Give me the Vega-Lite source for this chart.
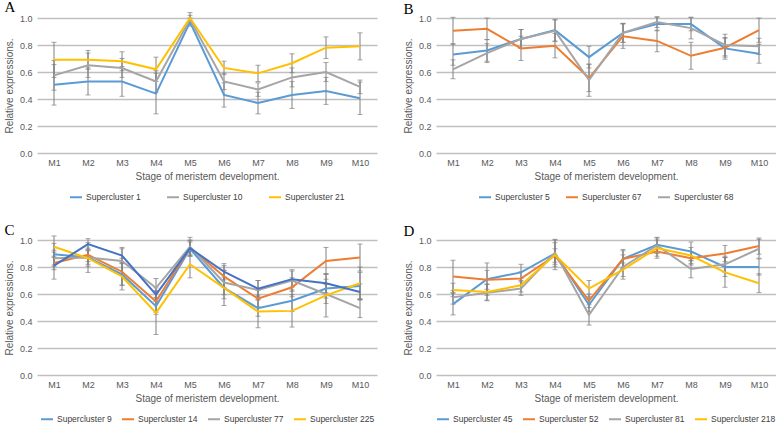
{
"$schema": "https://vega.github.io/schema/vega-lite/v6.json",
"padding": {"left": 4, "top": 0, "right": 0, "bottom": 0},
"background": "white",
"config": {
  "view": {"stroke": null},
  "font": "Liberation Sans",
  "axis": {"labelColor": "#595959", "titleColor": "#595959", "labelFontSize": 9, "titleFontSize": 10, "titleFontWeight": "normal", "ticks": false, "domain": false, "gridColor": "#c0c0c0", "gridWidth": 1.4},
  "axisX": {"grid": false, "labelAngle": 0, "labelPadding": 5, "titlePadding": 4},
  "axisY": {"labelPadding": 5, "titlePadding": 5},
  "legend": {"orient": "bottom", "direction": "horizontal", "symbolType": "stroke", "symbolStrokeWidth": 2, "labelFontSize": 8.5, "labelColor": "#404040", "columnPadding": 6, "labelOffset": 3, "symbolSize": 144, "offset": 9, "layout": {"bottom": {"anchor": "middle"}}},
  "title": {"font": "Liberation Serif", "fontSize": 15, "fontWeight": "normal", "color": "#000000", "anchor": "start", "frame": "bounds", "offset": -3}
},
"datasets": {
  "A": [
    {"series": "Supercluster 1", "stage": "M1", "value": 0.505, "err": 0.15},
    {"series": "Supercluster 1", "stage": "M2", "value": 0.53, "err": 0.10},
    {"series": "Supercluster 1", "stage": "M3", "value": 0.53, "err": 0.11},
    {"series": "Supercluster 1", "stage": "M4", "value": 0.44, "err": 0.15},
    {"series": "Supercluster 1", "stage": "M5", "value": 0.97, "err": 0.03},
    {"series": "Supercluster 1", "stage": "M6", "value": 0.43, "err": 0.09},
    {"series": "Supercluster 1", "stage": "M7", "value": 0.37, "err": 0.08},
    {"series": "Supercluster 1", "stage": "M8", "value": 0.43, "err": 0.10},
    {"series": "Supercluster 1", "stage": "M9", "value": 0.46, "err": 0.10},
    {"series": "Supercluster 1", "stage": "M10", "value": 0.405, "err": 0.12},
    {"series": "Supercluster 10", "stage": "M1", "value": 0.575, "err": 0.11},
    {"series": "Supercluster 10", "stage": "M2", "value": 0.65, "err": 0.09},
    {"series": "Supercluster 10", "stage": "M3", "value": 0.63, "err": 0.07},
    {"series": "Supercluster 10", "stage": "M4", "value": 0.53, "err": 0.08},
    {"series": "Supercluster 10", "stage": "M5", "value": 0.99, "err": 0.03},
    {"series": "Supercluster 10", "stage": "M6", "value": 0.53, "err": 0.06},
    {"series": "Supercluster 10", "stage": "M7", "value": 0.47, "err": 0.05},
    {"series": "Supercluster 10", "stage": "M8", "value": 0.56, "err": 0.07},
    {"series": "Supercluster 10", "stage": "M9", "value": 0.60, "err": 0.07},
    {"series": "Supercluster 10", "stage": "M10", "value": 0.49, "err": 0.05},
    {"series": "Supercluster 21", "stage": "M1", "value": 0.69, "err": 0.13},
    {"series": "Supercluster 21", "stage": "M2", "value": 0.69, "err": 0.07},
    {"series": "Supercluster 21", "stage": "M3", "value": 0.68, "err": 0.07},
    {"series": "Supercluster 21", "stage": "M4", "value": 0.62, "err": 0.09},
    {"series": "Supercluster 21", "stage": "M5", "value": 1.0, "err": 0.04},
    {"series": "Supercluster 21", "stage": "M6", "value": 0.63, "err": 0.05},
    {"series": "Supercluster 21", "stage": "M7", "value": 0.59, "err": 0.06},
    {"series": "Supercluster 21", "stage": "M8", "value": 0.665, "err": 0.07},
    {"series": "Supercluster 21", "stage": "M9", "value": 0.78, "err": 0.08},
    {"series": "Supercluster 21", "stage": "M10", "value": 0.79, "err": 0.10}
  ],
  "B": [
    {"series": "Supercluster 5", "stage": "M1", "value": 0.73, "err": 0.08},
    {"series": "Supercluster 5", "stage": "M2", "value": 0.76, "err": 0.08},
    {"series": "Supercluster 5", "stage": "M3", "value": 0.845, "err": 0.07},
    {"series": "Supercluster 5", "stage": "M4", "value": 0.91, "err": 0.08},
    {"series": "Supercluster 5", "stage": "M5", "value": 0.71, "err": 0.08},
    {"series": "Supercluster 5", "stage": "M6", "value": 0.89, "err": 0.07},
    {"series": "Supercluster 5", "stage": "M7", "value": 0.955, "err": 0.05},
    {"series": "Supercluster 5", "stage": "M8", "value": 0.955, "err": 0.05},
    {"series": "Supercluster 5", "stage": "M9", "value": 0.775, "err": 0.08},
    {"series": "Supercluster 5", "stage": "M10", "value": 0.735, "err": 0.07},
    {"series": "Supercluster 67", "stage": "M1", "value": 0.905, "err": 0.10},
    {"series": "Supercluster 67", "stage": "M2", "value": 0.92, "err": 0.08},
    {"series": "Supercluster 67", "stage": "M3", "value": 0.775, "err": 0.09},
    {"series": "Supercluster 67", "stage": "M4", "value": 0.795, "err": 0.09},
    {"series": "Supercluster 67", "stage": "M5", "value": 0.555, "err": 0.10},
    {"series": "Supercluster 67", "stage": "M6", "value": 0.865, "err": 0.09},
    {"series": "Supercluster 67", "stage": "M7", "value": 0.83, "err": 0.08},
    {"series": "Supercluster 67", "stage": "M8", "value": 0.72, "err": 0.10},
    {"series": "Supercluster 67", "stage": "M9", "value": 0.78, "err": 0.07},
    {"series": "Supercluster 67", "stage": "M10", "value": 0.91, "err": 0.09},
    {"series": "Supercluster 68", "stage": "M1", "value": 0.62, "err": 0.07},
    {"series": "Supercluster 68", "stage": "M2", "value": 0.74, "err": 0.07},
    {"series": "Supercluster 68", "stage": "M3", "value": 0.845, "err": 0.07},
    {"series": "Supercluster 68", "stage": "M4", "value": 0.905, "err": 0.08},
    {"series": "Supercluster 68", "stage": "M5", "value": 0.54, "err": 0.12},
    {"series": "Supercluster 68", "stage": "M6", "value": 0.89, "err": 0.07},
    {"series": "Supercluster 68", "stage": "M7", "value": 0.97, "err": 0.04},
    {"series": "Supercluster 68", "stage": "M8", "value": 0.925, "err": 0.08},
    {"series": "Supercluster 68", "stage": "M9", "value": 0.80, "err": 0.08},
    {"series": "Supercluster 68", "stage": "M10", "value": 0.79, "err": 0.06}
  ],
  "C": [
    {"series": "Supercluster 9", "stage": "M1", "value": 0.895, "err": 0.08},
    {"series": "Supercluster 9", "stage": "M2", "value": 0.87, "err": 0.05},
    {"series": "Supercluster 9", "stage": "M3", "value": 0.745, "err": 0.08},
    {"series": "Supercluster 9", "stage": "M4", "value": 0.51, "err": 0.06},
    {"series": "Supercluster 9", "stage": "M5", "value": 0.935, "err": 0.05},
    {"series": "Supercluster 9", "stage": "M6", "value": 0.645, "err": 0.08},
    {"series": "Supercluster 9", "stage": "M7", "value": 0.495, "err": 0.06},
    {"series": "Supercluster 9", "stage": "M8", "value": 0.55, "err": 0.08},
    {"series": "Supercluster 9", "stage": "M9", "value": 0.64, "err": 0.07},
    {"series": "Supercluster 9", "stage": "M10", "value": 0.66, "err": 0.10},
    {"series": "Supercluster 14", "stage": "M1", "value": 0.83, "err": 0.05},
    {"series": "Supercluster 14", "stage": "M2", "value": 0.89, "err": 0.05},
    {"series": "Supercluster 14", "stage": "M3", "value": 0.765, "err": 0.10},
    {"series": "Supercluster 14", "stage": "M4", "value": 0.545, "err": 0.08},
    {"series": "Supercluster 14", "stage": "M5", "value": 0.945, "err": 0.05},
    {"series": "Supercluster 14", "stage": "M6", "value": 0.73, "err": 0.08},
    {"series": "Supercluster 14", "stage": "M7", "value": 0.565, "err": 0.06},
    {"series": "Supercluster 14", "stage": "M8", "value": 0.65, "err": 0.07},
    {"series": "Supercluster 14", "stage": "M9", "value": 0.845, "err": 0.10},
    {"series": "Supercluster 14", "stage": "M10", "value": 0.87, "err": 0.10},
    {"series": "Supercluster 77", "stage": "M1", "value": 0.865, "err": 0.06},
    {"series": "Supercluster 77", "stage": "M2", "value": 0.87, "err": 0.11},
    {"series": "Supercluster 77", "stage": "M3", "value": 0.845, "err": 0.10},
    {"series": "Supercluster 77", "stage": "M4", "value": 0.645, "err": 0.07},
    {"series": "Supercluster 77", "stage": "M5", "value": 0.95, "err": 0.07},
    {"series": "Supercluster 77", "stage": "M6", "value": 0.685, "err": 0.09},
    {"series": "Supercluster 77", "stage": "M7", "value": 0.63, "err": 0.07},
    {"series": "Supercluster 77", "stage": "M8", "value": 0.70, "err": 0.08},
    {"series": "Supercluster 77", "stage": "M9", "value": 0.60, "err": 0.07},
    {"series": "Supercluster 77", "stage": "M10", "value": 0.495, "err": 0.07},
    {"series": "Supercluster 225", "stage": "M1", "value": 0.95, "err": 0.08},
    {"series": "Supercluster 225", "stage": "M2", "value": 0.865, "err": 0.06},
    {"series": "Supercluster 225", "stage": "M3", "value": 0.73, "err": 0.10},
    {"series": "Supercluster 225", "stage": "M4", "value": 0.46, "err": 0.16},
    {"series": "Supercluster 225", "stage": "M5", "value": 0.82, "err": 0.10},
    {"series": "Supercluster 225", "stage": "M6", "value": 0.645, "err": 0.13},
    {"series": "Supercluster 225", "stage": "M7", "value": 0.47, "err": 0.12},
    {"series": "Supercluster 225", "stage": "M8", "value": 0.475, "err": 0.12},
    {"series": "Supercluster 225", "stage": "M9", "value": 0.59, "err": 0.16},
    {"series": "Supercluster 225", "stage": "M10", "value": 0.68, "err": 0.12},
    {"series": "Unlabelled series", "stage": "M1", "value": 0.81, "err": 0.10},
    {"series": "Unlabelled series", "stage": "M2", "value": 0.97, "err": 0.04},
    {"series": "Unlabelled series", "stage": "M3", "value": 0.885, "err": 0.05},
    {"series": "Unlabelled series", "stage": "M4", "value": 0.595, "err": 0.05},
    {"series": "Unlabelled series", "stage": "M5", "value": 0.94, "err": 0.06},
    {"series": "Unlabelled series", "stage": "M6", "value": 0.765, "err": 0.06},
    {"series": "Unlabelled series", "stage": "M7", "value": 0.64, "err": 0.06},
    {"series": "Unlabelled series", "stage": "M8", "value": 0.71, "err": 0.06},
    {"series": "Unlabelled series", "stage": "M9", "value": 0.68, "err": 0.07},
    {"series": "Unlabelled series", "stage": "M10", "value": 0.615, "err": 0.06}
  ],
  "D": [
    {"series": "Supercluster 45", "stage": "M1", "value": 0.525, "err": 0.08},
    {"series": "Supercluster 45", "stage": "M2", "value": 0.71, "err": 0.12},
    {"series": "Supercluster 45", "stage": "M3", "value": 0.76, "err": 0.06},
    {"series": "Supercluster 45", "stage": "M4", "value": 0.90, "err": 0.08},
    {"series": "Supercluster 45", "stage": "M5", "value": 0.52, "err": 0.05},
    {"series": "Supercluster 45", "stage": "M6", "value": 0.86, "err": 0.07},
    {"series": "Supercluster 45", "stage": "M7", "value": 0.965, "err": 0.05},
    {"series": "Supercluster 45", "stage": "M8", "value": 0.915, "err": 0.07},
    {"series": "Supercluster 45", "stage": "M9", "value": 0.80, "err": 0.07},
    {"series": "Supercluster 45", "stage": "M10", "value": 0.80, "err": 0.06},
    {"series": "Supercluster 52", "stage": "M1", "value": 0.73, "err": 0.12},
    {"series": "Supercluster 52", "stage": "M2", "value": 0.705, "err": 0.07},
    {"series": "Supercluster 52", "stage": "M3", "value": 0.715, "err": 0.05},
    {"series": "Supercluster 52", "stage": "M4", "value": 0.885, "err": 0.05},
    {"series": "Supercluster 52", "stage": "M5", "value": 0.55, "err": 0.05},
    {"series": "Supercluster 52", "stage": "M6", "value": 0.86, "err": 0.06},
    {"series": "Supercluster 52", "stage": "M7", "value": 0.915, "err": 0.05},
    {"series": "Supercluster 52", "stage": "M8", "value": 0.865, "err": 0.05},
    {"series": "Supercluster 52", "stage": "M9", "value": 0.90, "err": 0.06},
    {"series": "Supercluster 52", "stage": "M10", "value": 0.955, "err": 0.06},
    {"series": "Supercluster 81", "stage": "M1", "value": 0.575, "err": 0.05},
    {"series": "Supercluster 81", "stage": "M2", "value": 0.61, "err": 0.06},
    {"series": "Supercluster 81", "stage": "M3", "value": 0.64, "err": 0.05},
    {"series": "Supercluster 81", "stage": "M4", "value": 0.905, "err": 0.10},
    {"series": "Supercluster 81", "stage": "M5", "value": 0.445, "err": 0.075},
    {"series": "Supercluster 81", "stage": "M6", "value": 0.80, "err": 0.09},
    {"series": "Supercluster 81", "stage": "M7", "value": 0.96, "err": 0.06},
    {"series": "Supercluster 81", "stage": "M8", "value": 0.785, "err": 0.065},
    {"series": "Supercluster 81", "stage": "M9", "value": 0.82, "err": 0.06},
    {"series": "Supercluster 81", "stage": "M10", "value": 0.935, "err": 0.07},
    {"series": "Supercluster 218", "stage": "M1", "value": 0.63, "err": 0.05},
    {"series": "Supercluster 218", "stage": "M2", "value": 0.615, "err": 0.06},
    {"series": "Supercluster 218", "stage": "M3", "value": 0.665, "err": 0.05},
    {"series": "Supercluster 218", "stage": "M4", "value": 0.89, "err": 0.11},
    {"series": "Supercluster 218", "stage": "M5", "value": 0.64, "err": 0.06},
    {"series": "Supercluster 218", "stage": "M6", "value": 0.78, "err": 0.05},
    {"series": "Supercluster 218", "stage": "M7", "value": 0.94, "err": 0.06},
    {"series": "Supercluster 218", "stage": "M8", "value": 0.885, "err": 0.06},
    {"series": "Supercluster 218", "stage": "M9", "value": 0.76, "err": 0.11},
    {"series": "Supercluster 218", "stage": "M10", "value": 0.68, "err": 0.07}
  ]
},
"columns": 2,
"bounds": "flush",
"spacing": {"row": 87, "column": 59},
"resolve": {"scale": {"color": "independent", "x": "independent", "y": "independent"}, "legend": {"color": "independent"}},
"concat": [
  {
    "title": {"text": "A"},
    "width": 340, "height": 135,
    "data": {"name": "A"},
    "layer": [
      {"mark": {"type": "errorbar", "ticks": {"size": 5}, "color": "#808080", "thickness": 1},
       "encoding": {
         "x": {"field": "stage", "type": "ordinal", "sort": ["M1","M2","M3","M4","M5","M6","M7","M8","M9","M10"], "scale": {"type": "point", "padding": 0.5}, "axis": {"title": "Stage of meristem development."}},
         "y": {"field": "value", "type": "quantitative", "scale": {"domain": [0, 1], "nice": false}, "axis": {"title": "Relative expressions.", "values": [0, 0.2, 0.4, 0.6, 0.8, 1.0], "format": ".1f"}},
         "yError": {"field": "err"},
         "detail": {"field": "series"}}},
      {"mark": {"type": "line", "strokeWidth": 2},
       "encoding": {
         "x": {"field": "stage", "type": "ordinal", "sort": ["M1","M2","M3","M4","M5","M6","M7","M8","M9","M10"], "scale": {"type": "point", "padding": 0.5}, "axis": {"title": "Stage of meristem development."}},
         "y": {"field": "value", "type": "quantitative", "scale": {"domain": [0, 1], "nice": false}, "axis": {"title": "Relative expressions.", "values": [0, 0.2, 0.4, 0.6, 0.8, 1.0], "format": ".1f"}},
         "color": {"field": "series", "type": "nominal", "scale": {"domain": ["Supercluster 1", "Supercluster 10", "Supercluster 21"], "range": ["#5B9BD5", "#A5A5A5", "#FFC000"]}, "legend": {"title": null, "columnPadding": 22}}}}
    ]
  },
  {
    "title": {"text": "B"},
    "width": 340, "height": 135,
    "data": {"name": "B"},
    "layer": [
      {"mark": {"type": "errorbar", "ticks": {"size": 5}, "color": "#808080", "thickness": 1},
       "encoding": {
         "x": {"field": "stage", "type": "ordinal", "sort": ["M1","M2","M3","M4","M5","M6","M7","M8","M9","M10"], "scale": {"type": "point", "padding": 0.5}, "axis": {"title": "Stage of meristem development."}},
         "y": {"field": "value", "type": "quantitative", "scale": {"domain": [0, 1], "nice": false}, "axis": {"title": "Relative expressions.", "values": [0, 0.2, 0.4, 0.6, 0.8, 1.0], "format": ".1f"}},
         "yError": {"field": "err"},
         "detail": {"field": "series"}}},
      {"mark": {"type": "line", "strokeWidth": 2},
       "encoding": {
         "x": {"field": "stage", "type": "ordinal", "sort": ["M1","M2","M3","M4","M5","M6","M7","M8","M9","M10"], "scale": {"type": "point", "padding": 0.5}, "axis": {"title": "Stage of meristem development."}},
         "y": {"field": "value", "type": "quantitative", "scale": {"domain": [0, 1], "nice": false}, "axis": {"title": "Relative expressions.", "values": [0, 0.2, 0.4, 0.6, 0.8, 1.0], "format": ".1f"}},
         "color": {"field": "series", "type": "nominal", "scale": {"domain": ["Supercluster 5", "Supercluster 67", "Supercluster 68"], "range": ["#5B9BD5", "#ED7D31", "#A5A5A5"]}, "legend": {"title": null, "columnPadding": 12}}}}
    ]
  },
  {
    "title": {"text": "C"},
    "width": 340, "height": 135,
    "data": {"name": "C"},
    "layer": [
      {"mark": {"type": "errorbar", "ticks": {"size": 5}, "color": "#808080", "thickness": 1},
       "encoding": {
         "x": {"field": "stage", "type": "ordinal", "sort": ["M1","M2","M3","M4","M5","M6","M7","M8","M9","M10"], "scale": {"type": "point", "padding": 0.5}, "axis": {"title": "Stage of meristem development."}},
         "y": {"field": "value", "type": "quantitative", "scale": {"domain": [0, 1], "nice": false}, "axis": {"title": "Relative expressions.", "values": [0, 0.2, 0.4, 0.6, 0.8, 1.0], "format": ".1f"}},
         "yError": {"field": "err"},
         "detail": {"field": "series"}}},
      {"transform": [{"filter": "datum.series != 'Unlabelled series'"}],
       "mark": {"type": "line", "strokeWidth": 2},
       "encoding": {
         "x": {"field": "stage", "type": "ordinal", "sort": ["M1","M2","M3","M4","M5","M6","M7","M8","M9","M10"], "scale": {"type": "point", "padding": 0.5}, "axis": {"title": "Stage of meristem development."}},
         "y": {"field": "value", "type": "quantitative", "scale": {"domain": [0, 1], "nice": false}, "axis": {"title": "Relative expressions.", "values": [0, 0.2, 0.4, 0.6, 0.8, 1.0], "format": ".1f"}},
         "color": {"field": "series", "type": "nominal", "scale": {"domain": ["Supercluster 9", "Supercluster 14", "Supercluster 77", "Supercluster 225"], "range": ["#5B9BD5", "#ED7D31", "#A5A5A5", "#FFC000"]}, "legend": {"title": null}}}},
      {"transform": [{"filter": "datum.series == 'Unlabelled series'"}],
       "mark": {"type": "line", "strokeWidth": 2, "color": "#4472C4"},
       "encoding": {
         "x": {"field": "stage", "type": "ordinal", "sort": ["M1","M2","M3","M4","M5","M6","M7","M8","M9","M10"], "scale": {"type": "point", "padding": 0.5}, "axis": {"title": "Stage of meristem development."}},
         "y": {"field": "value", "type": "quantitative", "scale": {"domain": [0, 1], "nice": false}, "axis": {"title": "Relative expressions.", "values": [0, 0.2, 0.4, 0.6, 0.8, 1.0], "format": ".1f"}}}}
    ]
  },
  {
    "title": {"text": "D"},
    "width": 340, "height": 135,
    "data": {"name": "D"},
    "layer": [
      {"mark": {"type": "errorbar", "ticks": {"size": 5}, "color": "#808080", "thickness": 1},
       "encoding": {
         "x": {"field": "stage", "type": "ordinal", "sort": ["M1","M2","M3","M4","M5","M6","M7","M8","M9","M10"], "scale": {"type": "point", "padding": 0.5}, "axis": {"title": "Stage of meristem development."}},
         "y": {"field": "value", "type": "quantitative", "scale": {"domain": [0, 1], "nice": false}, "axis": {"title": "Relative expressions.", "values": [0, 0.2, 0.4, 0.6, 0.8, 1.0], "format": ".1f"}},
         "yError": {"field": "err"},
         "detail": {"field": "series"}}},
      {"mark": {"type": "line", "strokeWidth": 2},
       "encoding": {
         "x": {"field": "stage", "type": "ordinal", "sort": ["M1","M2","M3","M4","M5","M6","M7","M8","M9","M10"], "scale": {"type": "point", "padding": 0.5}, "axis": {"title": "Stage of meristem development."}},
         "y": {"field": "value", "type": "quantitative", "scale": {"domain": [0, 1], "nice": false}, "axis": {"title": "Relative expressions.", "values": [0, 0.2, 0.4, 0.6, 0.8, 1.0], "format": ".1f"}},
         "color": {"field": "series", "type": "nominal", "scale": {"domain": ["Supercluster 45", "Supercluster 52", "Supercluster 81", "Supercluster 218"], "range": ["#5B9BD5", "#ED7D31", "#A5A5A5", "#FFC000"]}, "legend": {"title": null}}}}
    ]
  }
]
}
